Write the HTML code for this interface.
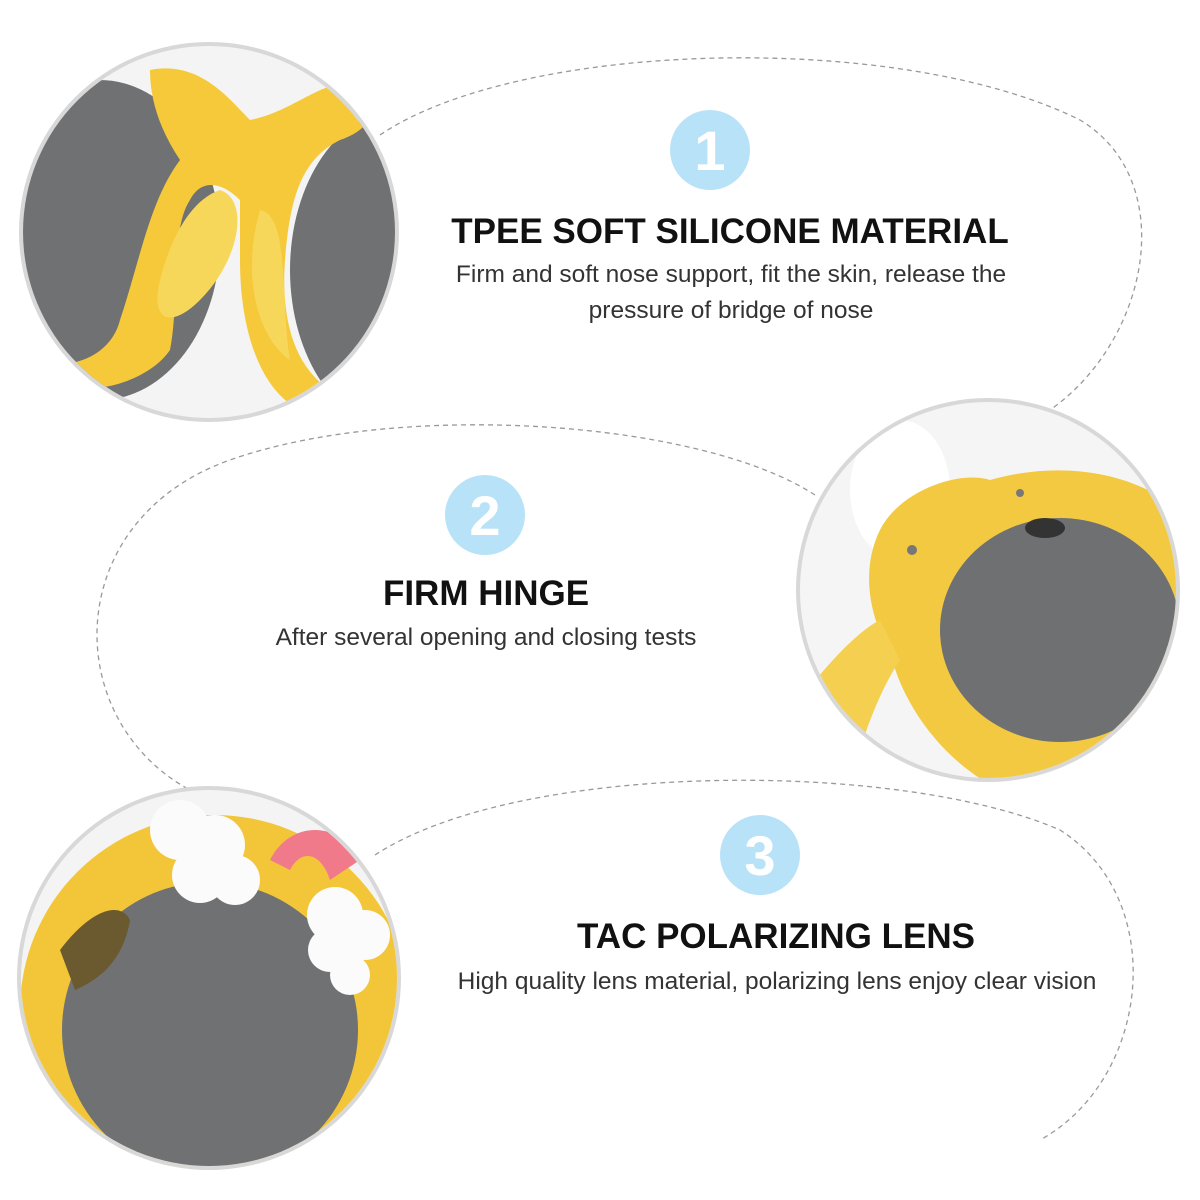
<!DOCTYPE html>
<html><head><meta charset="utf-8"><style>
html,body{margin:0;padding:0;background:#fff;width:1200px;height:1200px;overflow:hidden}
svg{display:block}
text{font-family:"Liberation Sans",Arial,sans-serif}
</style></head><body>
<svg width="1200" height="1200" viewBox="0 0 1200 1200" xmlns="http://www.w3.org/2000/svg">
<defs>
<clipPath id="c1"><circle cx="209" cy="232" r="186"/></clipPath>
<clipPath id="c2"><circle cx="988" cy="590" r="188"/></clipPath>
<clipPath id="c3"><circle cx="209" cy="978" r="188"/></clipPath>
</defs>
<g fill="none" stroke="#999" stroke-width="1.3" stroke-dasharray="5,4">
<path d="M380,135 C520,40 900,30 1080,120 C1180,180 1150,340 1050,410"/>
<path d="M815,495 C700,420 400,400 230,460 C60,520 60,720 190,790"/>
<path d="M375,855 C520,760 900,760 1060,830 C1170,900 1150,1080 1040,1140"/>
</g>
<circle cx="209" cy="232" r="190" fill="#d8d8d8"/>
<g clip-path="url(#c1)">
<rect x="0" y="0" width="420" height="440" fill="#f4f4f4"/>
<ellipse cx="100" cy="240" rx="120" ry="160" fill="#6f7173"/>
<ellipse cx="400" cy="270" rx="110" ry="160" fill="#6f7173"/>
<path d="M150,70 C200,60 230,100 250,120 C300,110 330,70 360,90 C380,110 370,130 340,140 C300,160 290,200 285,260 C280,330 300,370 330,390 L300,410 C260,390 240,330 240,260 L240,200 C220,180 200,180 190,200 C170,230 180,300 170,350 C150,380 90,400 60,380 L60,420 L0,420 L0,350 C60,380 110,360 120,320 C140,260 150,200 180,160 C160,130 150,100 150,70 Z" fill="#f5c93a"/>
<path d="M220,190 C250,200 240,260 200,300 C170,330 150,320 160,280 C170,240 190,200 220,190 Z" fill="#f7d75a"/>
<path d="M260,210 C290,215 280,300 290,360 C260,340 240,280 260,210 Z" fill="#f7d75a"/>
</g>
<circle cx="988" cy="590" r="192" fill="#d8d8d8"/>
<g clip-path="url(#c2)">
<rect x="790" y="395" width="400" height="400" fill="#f5f5f5"/>
<ellipse cx="900" cy="490" rx="50" ry="70" fill="#fff"/>
<path d="M880,530 C900,490 960,470 990,480 C1060,460 1140,470 1190,520 L1190,780 L1000,790 C940,760 900,700 890,650 C870,620 860,570 880,530 Z" fill="#f3c941"/>
<path d="M800,700 C830,660 860,630 880,620 L900,660 C880,690 860,740 850,790 L810,790 Z" fill="#f5cf50"/>
<ellipse cx="1060" cy="630" rx="120" ry="112" fill="#6e7072"/>
<ellipse cx="1045" cy="528" rx="20" ry="10" fill="#333"/>
<circle cx="912" cy="550" r="5" fill="#777"/>
<circle cx="1020" cy="493" r="4" fill="#777"/>
</g>
<circle cx="209" cy="978" r="192" fill="#d8d8d8"/>
<g clip-path="url(#c3)">
<rect x="15" y="785" width="400" height="400" fill="#f4f4f4"/>
<circle cx="215" cy="1010" r="195" fill="#f3c63a"/>
<circle cx="210" cy="1030" r="148" fill="#6f7173"/>
<path d="M60,950 C90,910 120,900 130,920 C125,950 110,975 75,990 Z" fill="#6b5a30"/>
<path d="M270,860 C290,820 340,820 360,860 L330,880 C320,850 300,850 290,870 Z" fill="#f07a8a"/>
<g fill="#fbfbfb">
<circle cx="180" cy="830" r="30"/><circle cx="215" cy="845" r="30"/><circle cx="200" cy="875" r="28"/><circle cx="235" cy="880" r="25"/>
<circle cx="335" cy="915" r="28"/><circle cx="365" cy="935" r="25"/><circle cx="330" cy="950" r="22"/><circle cx="350" cy="975" r="20"/>
</g>
</g>
<g fill="#b8e2f8"><circle cx="710" cy="150" r="40"/><circle cx="485" cy="515" r="40"/><circle cx="760" cy="855" r="40"/></g>
<g fill="#fff" font-size="56" font-weight="bold" text-anchor="middle">
<text x="710" y="170">1</text><text x="485" y="535">2</text><text x="760" y="875">3</text></g>
<g fill="#111" font-weight="bold" font-size="35" text-anchor="middle">
<text x="730" y="243">TPEE SOFT SILICONE MATERIAL</text>
<text x="486" y="605">FIRM HINGE</text>
<text x="776" y="948">TAC POLARIZING LENS</text></g>
<g fill="#333" font-size="24.5" text-anchor="middle">
<text x="731" y="282">Firm and soft nose support, fit the skin, release the</text>
<text x="731" y="318">pressure of bridge of nose</text>
<text x="486" y="645">After several opening and closing tests</text>
<text x="777" y="989">High quality lens material, polarizing lens enjoy clear vision</text></g>
</svg>
</body></html>
